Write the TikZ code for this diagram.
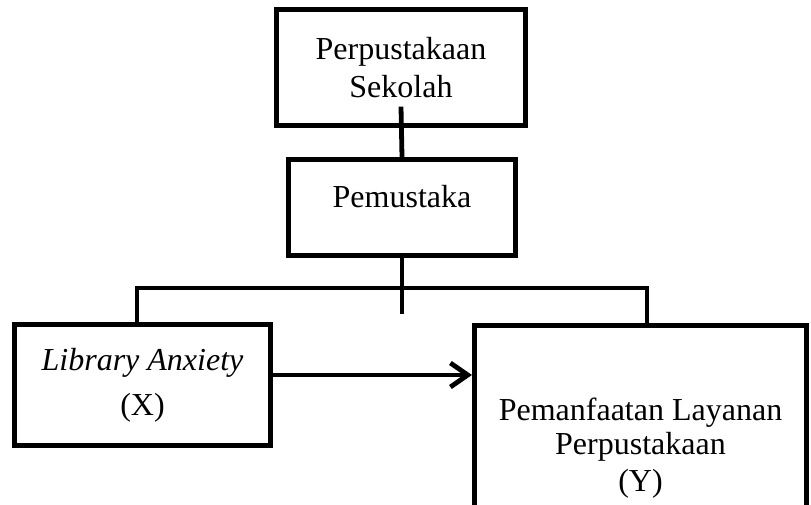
\documentclass[tikz,border=0pt]{standalone}
\usepackage{fontspec}
\setmainfont{Liberation Serif}
\usetikzlibrary{arrows.meta, positioning}

\begin{document}
\begin{tikzpicture}[
  x=0.75pt, y=-0.75pt,
  font=\fontsize{24}{27}\selectfont,
  box/.style={draw, line width=3.8pt, align=center, inner sep=0pt},
  link/.style={line width=3.6pt},
  flow/.style={-{Straight Barb[length=13pt, width=18pt, line width=3.6pt]}, line width=3.6pt}
]

% canvas
\useasboundingbox (0,0) rectangle (811,505);
\clip (0,0) rectangle (811,505);

% =========================================================
% BOXES
% =========================================================

\node[box, minimum width=186.75pt, minimum height=87pt,
  font=\fontsize{24}{28.5}\selectfont] (library) at (401,67.5)
{Perpustakaan\\Sekolah};

\node[box, minimum width=170pt, minimum height=72pt, text depth=16pt] (librarian) at (402,207.5)
{Pemustaka};

\node[box, minimum width=192pt, minimum height=91pt] (anxiety) at (142.5,385)
{\textit{Library Anxiety}\\[7pt](X)};

\node[box, minimum width=249pt, minimum height=184pt,
  font=\fontsize{24}{25.5}\selectfont] (usage) at (640.5,448)
{Pemanfaatan Layanan\\Perpustakaan\\[2pt](Y)};

% =========================================================
% LINKS
% =========================================================

\draw[link] ([yshift=16pt]library.south) -- (librarian.north);
\draw[link] (librarian.south) -- ++(0,56);

\coordinate (busL) at (137,288);
\coordinate (busR) at (647,288);
\draw[link] (anxiety.north -| busL) -- (busL) -- (busR) -- (usage.north -| busR);

% X -> Y
\draw[flow] ([yshift=7.5pt]anxiety.east) -- ([yshift=7.5pt]anxiety.east -| usage.west);

\end{tikzpicture}
\end{document}
